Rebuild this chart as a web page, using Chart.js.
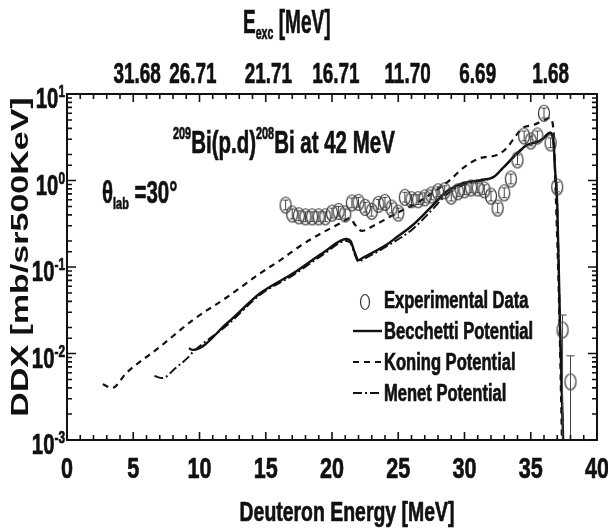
<!DOCTYPE html>
<html>
<head>
<meta charset="utf-8">
<script src="https://cdn.jsdelivr.net/npm/chart.js@4.4.0/dist/chart.umd.min.js"></script>
<style>
  html,body{margin:0;padding:0;background:#fff}
  #wrap{width:608px;height:528px}
</style>
</head>
<body>
<div id="wrap"><canvas id="ddx" width="608" height="528"></canvas></div>
<script>
// ---- data ----
const expE = [16.5,17,17.5,18,18.5,19,19.5,20,20.5,21,21.5,22,22.5,23,23.5,24,24.5,25,25.5,26,26.5,27,27.5,28,28.5,29,29.5,30,30.5,31,31.5,32,32.5,33,33.5,34,34.5,35,35.5,36,36.5,37,37.4,38];
const expY = [0.52,0.41,0.39,0.38,0.38,0.38,0.38,0.42,0.44,0.41,0.55,0.56,0.49,0.44,0.53,0.56,0.48,0.42,0.64,0.60,0.60,0.63,0.68,0.74,0.76,0.66,0.74,0.78,0.82,0.82,0.78,0.66,0.48,0.72,1.04,1.73,3.27,2.86,3.27,6.0,2.72,0.84,0.0187,0.0047];
// relative errors (up / down)
const expErrUp = [.14,.14,.14,.14,.14,.14,.14,.14,.14,.14,.14,.14,.14,.14,.14,.14,.14,.14,.14,.14,.14,.14,.14,.14,.14,.14,.14,.14,.14,.14,.14,.14,.14,.14,.14,.14,.14,.14,.14,.14,.14,.14,.49,1.0];
const expErrDn = [.12,.12,.12,.12,.12,.12,.12,.12,.12,.12,.12,.12,.12,.12,.12,.12,.12,.12,.12,.12,.12,.12,.12,.12,.12,.12,.12,.12,.12,.12,.12,.12,.12,.12,.12,.12,.12,.12,.12,.12,.12,.12,1.0,1.0];

const becE = [9.2,9.5,12.1,14.6,17.1,19.3,21.1,21.4,21.7,22.0,22.3,24.2,24.9,26.1,27.4,28.7,29.9,31.2,32.2,32.9,34.0,34.7,35.5,35.9,36.45,36.7,36.85,37.0,37.2,37.45];
const becY = [0.0115,0.011,0.0225,0.050,0.085,0.145,0.211,0.200,0.149,0.120,0.127,0.185,0.222,0.306,0.48,0.757,0.935,1.01,1.10,1.40,2.08,2.57,2.79,3.02,3.54,2.94,1.22,0.52,0.0244,0.0009];

const konE = [2.7,3.4,4.5,7.0,9.5,12.1,14.6,16.1,17.6,19.1,20.8,21.35,21.75,22.25,23.1,24.9,26.4,27.9,28.9,29.9,31.2,32.45,33.2,33.8,34.4,35.2,35.9,36.45,36.7,36.9,37.13,37.36];
const konY = [0.0044,0.0040,0.0060,0.0119,0.0244,0.045,0.085,0.120,0.175,0.241,0.331,0.368,0.306,0.261,0.298,0.421,0.55,0.78,1.01,1.40,1.82,1.97,2.38,3.18,4.05,4.38,4.88,5.28,4.05,0.60,0.042,0.0009];

const menE = [6.6,7.2,8.2,9.1,9.5,12.1,14.6,17.1,19.3,21.1,21.4,21.7,22.0,22.3,24.2,26.1,27.4,28.7,29.9,31.2,32.2,32.9,34.0,34.7,35.5,35.9,36.45,36.7,36.85,37.0,37.2,37.45];
const menY = [0.0055,0.0052,0.0068,0.0089,0.0104,0.0213,0.048,0.081,0.138,0.20,0.19,0.142,0.115,0.121,0.176,0.275,0.433,0.70,0.89,0.99,1.10,1.38,2.05,2.55,2.8,3.05,3.6,2.9,1.2,0.5,0.024,0.0009];

// tick labels
const xTickVals = [0,5,10,15,20,25,30,35,40];
const topLabelPos = [5.3,9.5,15.2,20.3,25.7,31.0,36.5];   // where the E_exc labels sit on the deuteron axis
const topTickLabels = ['31.68','26.71','21.71','16.71','11.70','6.69','1.68'];
const yTickVals = [10,1,0.1,0.01,0.001];
const yTickSup = ['1','0','-1','-2','-3'];

const seriesNames = ['Experimental Data','Becchetti Potential','Koning Potential','Menet Potential'];

const INK = '#111';
const FONT = '"Liberation Sans", Arial, sans-serif';

const pts = (xs, ys) => xs.map((x,i)=>({x, y: ys[i]}));

// open ellipse marker
function ellipseMarker(rx, ry){
  const c = document.createElement('canvas');
  c.width = rx*2+3; c.height = ry*2+3;
  const g = c.getContext('2d');
  g.strokeStyle = '#333'; g.lineWidth = 1.2;
  g.beginPath(); g.ellipse(c.width/2, c.height/2, rx, ry, 0, 0, Math.PI*2); g.stroke();
  return c;
}
const marker = ellipseMarker(5.5, 8);
const legendMarker = ellipseMarker(4.5, 7.5);

// squeezed bold text helper
function sq(ctx, txt, x, y, size, sx, align, base){
  ctx.save();
  ctx.font = `bold ${size}px ${FONT}`;
  ctx.textBaseline = base || 'alphabetic';
  ctx.textAlign = 'left';
  const w = ctx.measureText(txt).width * sx;
  let x0 = align==='center' ? x - w/2 : align==='right' ? x - w : x;
  ctx.translate(x0, y); ctx.scale(sx, 1);
  ctx.fillStyle = INK; ctx.strokeStyle = INK; ctx.lineWidth = 0.7;
  ctx.fillText(txt, 0, 0);
  ctx.strokeText(txt, 0, 0);
  ctx.restore();
  return w;
}
// runs of mixed size text, left to right on one baseline
function runs(ctx, parts, x, y, sx){
  let cx = x;
  parts.forEach(p => { cx += sq(ctx, p.t, cx, y + (p.dy||0), p.size, sx, 'left'); });
  return cx;
}

const errorBars = {
  id: 'errorBars',
  afterDatasetsDraw(chart){
    const {ctx, chartArea:a, scales:{x, y}} = chart;
    ctx.save();
    ctx.beginPath(); ctx.rect(a.left, a.top, a.right-a.left, a.bottom-a.top); ctx.clip();
    ctx.strokeStyle = '#444'; ctx.lineWidth = 1;
    expE.forEach((e,i) => {
      const px = x.getPixelForValue(e);
      const hi = expY[i]*(1+expErrUp[i]);
      const lo = expY[i]*(1-expErrDn[i]);
      const pHi = y.getPixelForValue(hi);
      const pLo = lo > 0 ? y.getPixelForValue(lo) : a.bottom + 2;
      const cap = i >= expE.length-2 ? 4 : 2.5;
      ctx.beginPath();
      ctx.moveTo(px, pHi); ctx.lineTo(px, pLo);
      ctx.moveTo(px-cap, pHi); ctx.lineTo(px+cap, pHi);
      if (lo > 0) { ctx.moveTo(px-cap, pLo); ctx.lineTo(px+cap, pLo); }
      ctx.stroke();
    });
    ctx.restore();
  }
};

const frameAndText = {
  id: 'frameAndText',
  afterDraw(chart){
    const {ctx, chartArea:a, scales} = chart;
    const xs = scales.x, ys = scales.y;
    ctx.save();
    // frame
    ctx.strokeStyle = INK; ctx.lineWidth = 2;
    ctx.strokeRect(a.left, a.top, a.right-a.left, a.bottom-a.top);
    // inward ticks
    ctx.lineWidth = 1.6;
    ctx.beginPath();
    xs.ticks.forEach(t => {
      const px = xs.getPixelForValue(t.value);
      const len = (Math.round(t.value) % 5 === 0) ? 8 : 5;
      ctx.moveTo(px, a.bottom); ctx.lineTo(px, a.bottom - len);
      ctx.moveTo(px, a.top); ctx.lineTo(px, a.top + len);
    });
    ys.ticks.forEach(t => {
      const py = ys.getPixelForValue(t.value);
      const lg = Math.log10(t.value);
      const len = Math.abs(lg - Math.round(lg)) < 1e-6 ? 9 : 5;
      ctx.moveTo(a.left, py); ctx.lineTo(a.left + len, py);
      ctx.moveTo(a.right, py); ctx.lineTo(a.right - len, py);
    });
    ctx.stroke();

    // bottom tick labels
    xTickVals.forEach(v => sq(ctx, String(v), xs.getPixelForValue(v), a.bottom + 38, 30, 0.72, 'center'));
    // top tick labels (excitation energy)
    topLabelPos.forEach((v,i) => sq(ctx, topTickLabels[i], xs.getPixelForValue(v), a.top - 11, 30, 0.63, 'center'));
    // y tick labels 10^n
    yTickVals.forEach((v,i) => {
      const py = ys.getPixelForValue(v);
      ctx.font = `bold 29px ${FONT}`;
      const w1 = ctx.measureText('10').width * 0.7;
      ctx.font = `bold 17px ${FONT}`;
      const w2 = ctx.measureText(yTickSup[i]).width * 0.7;
      const x0 = a.left - 2 - w1 - w2;
      runs(ctx, [{t:'10', size:29}, {t:yTickSup[i], size:17, dy:-11}], x0, py + 14, 0.7);
    });

    // axis titles
    sq(ctx, 'Deuteron Energy [MeV]', 347, 521, 27, 0.72, 'center');
    runs(ctx, [{t:'E', size:34}, {t:'exc', size:19, dy:6}, {t:' [MeV]', size:34}], 243, 33, 0.56);
    ctx.save();
    ctx.translate(21, 257);
    ctx.rotate(-Math.PI/2);
    ctx.scale(1, 0.72);
    ctx.font = `bold 34px ${FONT}`; ctx.fillStyle = INK; ctx.textAlign = 'center'; ctx.textBaseline = 'middle';
    ctx.fillText('DDX [mb/sr500KeV]', 0, 0);
    ctx.restore();

    // annotations
    runs(ctx, [{t:'209', size:17, dy:-14}, {t:'Bi(p.d)', size:32}, {t:'208', size:17, dy:-14}, {t:'Bi at 42 MeV', size:32}], 173, 153, 0.64);
    runs(ctx, [{t:'\u03B8', size:32}, {t:'lab', size:17, dy:6}, {t:' =30\u00B0', size:32}], 102, 203, 0.64);

    // legend
    const lx = 353, lx2 = 382, tx = 384;
    const rows = [300, 331, 362, 393];
    ctx.drawImage(legendMarker, 365 - legendMarker.width/2, rows[0] + 2 - legendMarker.height/2);
    const dsets = chart.data.datasets;
    [1,2,3].forEach(k => {
      ctx.save();
      ctx.strokeStyle = dsets[k].borderColor; ctx.lineWidth = dsets[k].borderWidth;
      ctx.setLineDash(dsets[k].borderDash || []);
      ctx.beginPath(); ctx.moveTo(lx, rows[k]); ctx.lineTo(lx2, rows[k]); ctx.stroke();
      ctx.restore();
    });
    seriesNames.forEach((n,k) => sq(ctx, n, tx, rows[k] + 8, 23, 0.72, 'left'));
    ctx.restore();
  }
};

const sideFit = (w) => (s) => { s.width = w; };
const capFit = (h) => (s) => { s.height = h; };

new Chart(document.getElementById('ddx'), {
  type: 'scatter',
  data: {
    datasets: [
      { label: seriesNames[0], data: pts(expE, expY), pointStyle: marker, pointRadius: 8, showLine: false, order: 0 },
      { label: seriesNames[1], data: pts(becE, becY), showLine: true, borderColor: INK, borderWidth: 2.4, pointRadius: 0, cubicInterpolationMode: 'monotone', order: 1 },
      { label: seriesNames[2], data: pts(konE, konY), showLine: true, borderColor: INK, borderWidth: 2.2, borderDash: [6,5], pointRadius: 0, cubicInterpolationMode: 'monotone', order: 2 },
      { label: seriesNames[3], data: pts(menE, menY), showLine: true, borderColor: INK, borderWidth: 1.9, borderDash: [9,3,2,3], pointRadius: 0, cubicInterpolationMode: 'monotone', order: 3 },
    ],
  },
  options: {
    responsive: false, animation: false, devicePixelRatio: 1,
    layout: { padding: 0 },
    plugins: { legend: { display: false }, tooltip: { enabled: false } },
    scales: {
      x:  { type: 'linear', position: 'bottom', min: 0, max: 40,
            ticks: { stepSize: 1, display: false, autoSkip: false },
            grid: { display: false }, border: { display: false }, afterFit: capFit(88) },
      x2: { type: 'linear', position: 'top', min: 0, max: 40,
            ticks: { stepSize: 1, display: false, autoSkip: false },
            grid: { display: false }, border: { display: false }, afterFit: capFit(94) },
      y:  { type: 'logarithmic', position: 'left', min: 0.001, max: 10,
            ticks: { display: false, autoSkip: false },
            grid: { display: false }, border: { display: false }, afterFit: sideFit(67) },
      y2: { type: 'logarithmic', position: 'right', min: 0.001, max: 10,
            ticks: { display: false, autoSkip: false },
            grid: { display: false }, border: { display: false }, afterFit: sideFit(11) },
    },
  },
  plugins: [errorBars, frameAndText],
});
</script>
</body>
</html>
